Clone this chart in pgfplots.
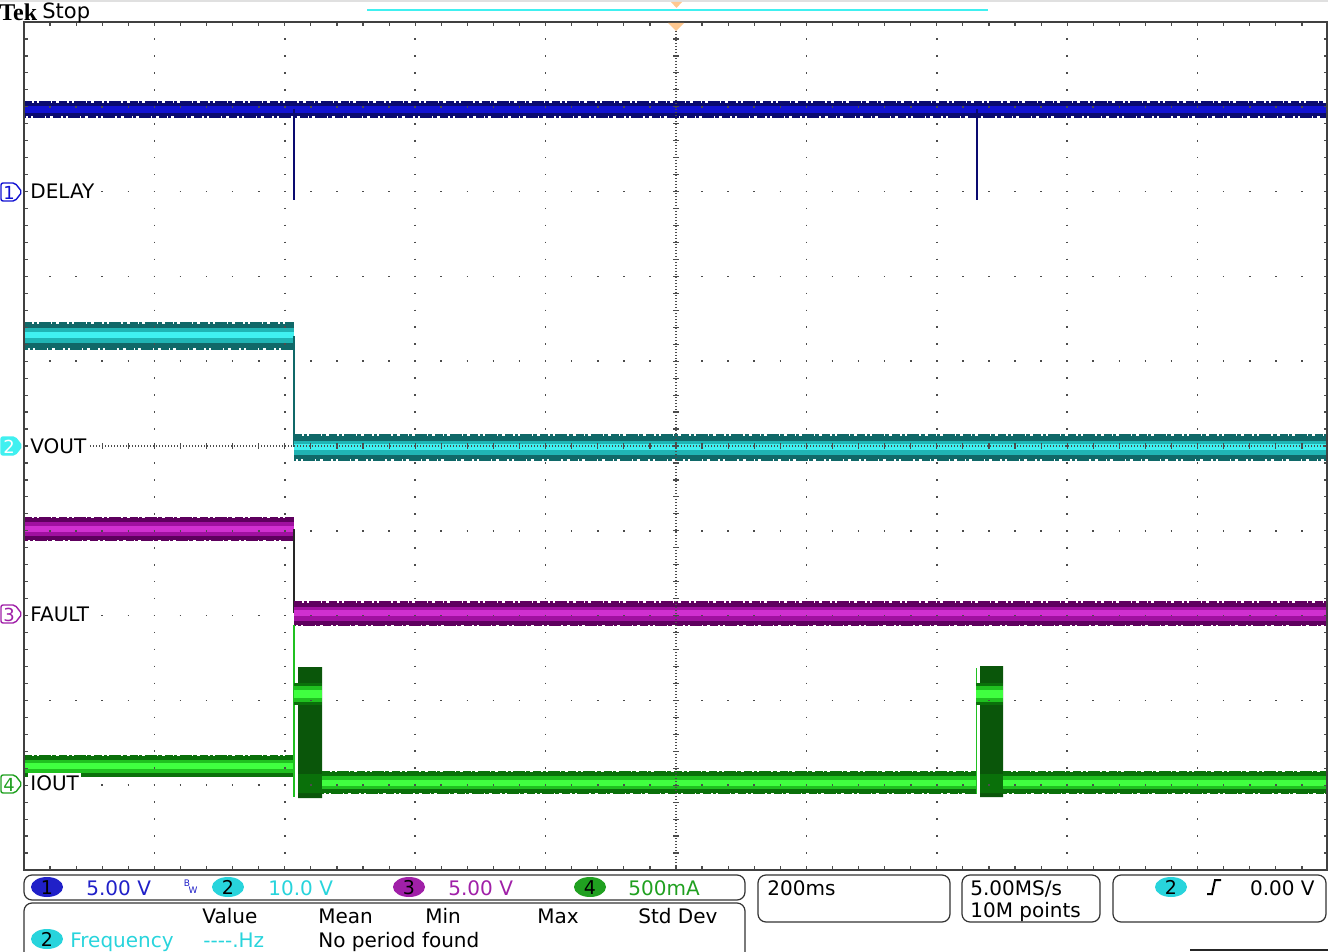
\documentclass[border=0pt]{standalone}
\usepackage{pgfplots}
\pgfplotsset{compat=1.18}
\usepackage{fontspec}
\setmainfont{DejaVu Sans}
\newfontfamily\tekserif{Liberation Serif}

% scope trace colours
\definecolor{c1}{HTML}{1212D2}
\definecolor{c1d}{HTML}{0A0A70}
\definecolor{c2}{HTML}{40F0F0}
\definecolor{c2m}{HTML}{20B4B4}
\definecolor{c2d}{HTML}{106868}
\definecolor{c3}{HTML}{D030D0}
\definecolor{c3m}{HTML}{A010A0}
\definecolor{c3d}{HTML}{5E005E}
\definecolor{c4}{HTML}{40FF40}
\definecolor{c4m}{HTML}{20C020}
\definecolor{c4d}{HTML}{0A700A}
\definecolor{c4x}{HTML}{0A560A}
\definecolor{t1}{HTML}{2020C8}
\definecolor{t2}{HTML}{28D4DC}
\definecolor{t3}{HTML}{A020A8}
\definecolor{t4}{HTML}{20A020}
\definecolor{trig}{HTML}{FFC890}

\tikzset{
  fringe/.style={line width=1.1pt, dash pattern=on 4pt off 0.8pt on 1.5pt off 1.2pt on 6pt off 0.6pt on 2pt off 1.5pt},
  gridv/.style={black!70, line width=0.8pt, dash pattern=on 0.8pt off 7.68pt, dash phase=0.4pt},
  gridh/.style={black!70, line width=0.8pt, dash pattern=on 0.8pt off 12.24pt, dash phase=0.4pt},
  gridc/.style={black!70, line width=0.6pt},
  box/.style={black!80, line width=0.6pt, rounded corners=4pt},
  txt/.style={font=\fontsize{10}{12}\selectfont, inner sep=0pt, anchor=base west},
}

\begin{document}
\begin{tikzpicture}
\begin{axis}[
  scale only axis, width=652pt, height=424pt,
  xmin=24, xmax=1328, ymin=22, ymax=870, y dir=reverse,
  hide axis, clip=false,
]
% ---- channel 1: DELAY
\addplot[c1d, line width=6.5pt] coordinates {(24,109.5) (1328,109.5)};
\addplot[c1, line width=3.5pt] coordinates {(24,109.5) (1328,109.5)};
\addplot[c1d, fringe] coordinates {(24,102.5) (1328,102.5)};
\addplot[c1d, fringe, dash phase=3pt] coordinates {(24,116.5) (1328,116.5)};
\addplot[c1d, line width=0.7pt] coordinates {(294,109) (294,200)};
\addplot[c1d, line width=0.7pt] coordinates {(977,109) (977,200)};

% ---- channel 2: VOUT
\addplot[c2d, line width=12pt] coordinates {(24,336) (294,336)};
\addplot[c2m, line width=7.5pt] coordinates {(24,336) (294,336)};
\addplot[c2, line width=3pt] coordinates {(24,335) (294,335)};
\addplot[c2d, fringe] coordinates {(24,323) (294,323)};
\addplot[c2d, fringe, dash phase=2pt] coordinates {(24,349) (294,349)};
\addplot[c2d, line width=0.8pt] coordinates {(294,336) (294,447)};
\addplot[c2d, line width=11.5pt] coordinates {(294,447.5) (1328,447.5)};
\addplot[c2m, line width=7pt] coordinates {(294,447.5) (1328,447.5)};
\addplot[c2, line width=3pt] coordinates {(294,446.5) (1328,446.5)};
\addplot[c2d, fringe] coordinates {(294,435) (1328,435)};
\addplot[c2d, fringe, dash phase=3pt] coordinates {(294,460) (1328,460)};

% ---- channel 3: FAULT
\addplot[c3d, line width=11pt] coordinates {(24,529) (294,529)};
\addplot[c3m, line width=7pt] coordinates {(24,529) (294,529)};
\addplot[c3, line width=3pt] coordinates {(24,528.5) (294,528.5)};
\addplot[c3d, fringe] coordinates {(24,518) (294,518)};
\addplot[c3d, fringe, dash phase=2pt] coordinates {(24,540) (294,540)};
\addplot[black!85, line width=0.9pt] coordinates {(294,529) (294,613)};
\addplot[c3d, line width=11pt] coordinates {(294,613.5) (1328,613.5)};
\addplot[c3m, line width=7pt] coordinates {(294,613.5) (1328,613.5)};
\addplot[c3, line width=3pt] coordinates {(294,613) (1328,613)};
\addplot[c3d, fringe] coordinates {(294,602.5) (1328,602.5)};
\addplot[c3d, fringe, dash phase=3pt] coordinates {(294,624.5) (1328,624.5)};

% ---- channel 4: IOUT
\addplot[c4d, line width=10.5pt] coordinates {(24,766) (294,766)};
\addplot[c4m, line width=6.5pt] coordinates {(24,766) (294,766)};
\addplot[c4, line width=3pt] coordinates {(24,766) (294,766)};
\addplot[c4d, fringe] coordinates {(24,756) (294,756)};
\addplot[c4d, fringe, dash phase=2pt] coordinates {(24,776) (294,776)};
\addplot[c4m, line width=0.9pt] coordinates {(294,625) (294,797)};
% first pulse
\addplot[fill=c4x, draw=none] coordinates {(298,667) (322,667) (322,798) (298,798) (298,667)};
\addplot[fill=c4d, draw=none] coordinates {(298,774) (322,774) (322,793) (298,793) (298,774)};
\addplot[c4d, line width=11pt] coordinates {(294,694) (322,694)};
\addplot[c4m, line width=8pt] coordinates {(294,694) (322,694)};
\addplot[c4, line width=4pt] coordinates {(294,694) (322,694)};
\addplot[c4d, line width=10.5pt] coordinates {(322,782.5) (976,782.5)};
\addplot[c4m, line width=6.5pt] coordinates {(322,782.5) (976,782.5)};
\addplot[c4, line width=3pt] coordinates {(322,782.5) (976,782.5)};
\addplot[c4d, fringe] coordinates {(322,772.5) (976,772.5)};
\addplot[c4d, fringe, dash phase=3pt] coordinates {(322,792.5) (976,792.5)};
% second pulse
\addplot[c4m, line width=0.9pt] coordinates {(976.5,668) (976.5,794)};
\addplot[fill=c4x, draw=none] coordinates {(980,666) (1003,666) (1003,797) (980,797) (980,666)};
\addplot[fill=c4d, draw=none] coordinates {(980,774) (1003,774) (1003,793) (980,793) (980,774)};
\addplot[c4d, line width=11pt] coordinates {(976,694) (1003,694)};
\addplot[c4m, line width=8pt] coordinates {(976,694) (1003,694)};
\addplot[c4, line width=4pt] coordinates {(976,694) (1003,694)};
\addplot[c4d, line width=10.5pt] coordinates {(1003,782.5) (1328,782.5)};
\addplot[c4m, line width=6.5pt] coordinates {(1003,782.5) (1328,782.5)};
\addplot[c4, line width=3pt] coordinates {(1003,782.5) (1328,782.5)};
\addplot[c4d, fringe] coordinates {(1003,772.5) (1328,772.5)};
\addplot[c4d, fringe, dash phase=2pt] coordinates {(1003,792.5) (1328,792.5)};

% ---- graticule
\pgfplotsinvokeforeach{1,2,3,4,6,7,8,9}{
  \draw[gridv] (axis cs:{24+130.4*#1},22) -- (axis cs:{24+130.4*#1},870);
  \draw[gridh] (axis cs:24,{22+84.8*#1}) -- (axis cs:1328,{22+84.8*#1});
}
\draw[gridc, dash pattern=on 0.5pt off 1pt] (axis cs:676,22) -- (axis cs:676,870);
\draw[gridc, dash pattern=on 0.5pt off 1pt] (axis cs:24,446) -- (axis cs:1328,446);
\pgfplotsinvokeforeach{0,...,50}{
  \draw[gridc] (axis cs:{24+26.08*#1},443) -- (axis cs:{24+26.08*#1},449);
  \draw[gridc] (axis cs:673,{22+16.96*#1}) -- (axis cs:679,{22+16.96*#1});
  \draw[gridc] (axis cs:{24+26.08*#1},22) -- (axis cs:{24+26.08*#1},26);
  \draw[gridc] (axis cs:{24+26.08*#1},866) -- (axis cs:{24+26.08*#1},870);
  \draw[gridc] (axis cs:24,{22+16.96*#1}) -- (axis cs:28,{22+16.96*#1});
  \draw[gridc] (axis cs:1324,{22+16.96*#1}) -- (axis cs:1328,{22+16.96*#1});
}
\draw[black!75, line width=0.9pt] (axis cs:24,22) rectangle (axis cs:1327,870);

% ---- header
\draw[black!12, line width=1pt] (axis cs:0,1) -- (axis cs:1328,1);
\draw[c2, line width=1pt] (axis cs:367,10) -- (axis cs:988,10);
\fill[trig] (axis cs:671,2) -- (axis cs:682,2) -- (axis cs:676.5,8) -- cycle;
\fill[trig] (axis cs:668,23) -- (axis cs:684,23) -- (axis cs:676,31) -- cycle;
\node[inner sep=0pt, anchor=base west, font=\tekserif\bfseries\fontsize{12}{14}\selectfont] at (axis cs:-1,21) {Tek};
\node[inner sep=0pt, anchor=base west, font=\fontsize{10.5}{12}\selectfont] at (axis cs:42,19) {Stop};

% ---- channel markers and labels
\draw[c1, fill=white, line width=0.7pt, rounded corners=1pt] (axis cs:1,183) -- (axis cs:15,183) -- (axis cs:22,192) -- (axis cs:15,201) -- (axis cs:1,201) -- cycle;
\node[c1, font=\fontsize{9}{10}\selectfont] at (axis cs:9,192.5) {1};
\draw[c2, fill=c2, line width=0.7pt, rounded corners=1pt] (axis cs:1,437) -- (axis cs:15,437) -- (axis cs:22,446) -- (axis cs:15,455) -- (axis cs:1,455) -- cycle;
\node[white, font=\fontsize{9}{10}\selectfont] at (axis cs:9,446.5) {2};
\draw[t3, fill=white, line width=0.7pt, rounded corners=1pt] (axis cs:1,605) -- (axis cs:15,605) -- (axis cs:22,614) -- (axis cs:15,623) -- (axis cs:1,623) -- cycle;
\node[t3, font=\fontsize{9}{10}\selectfont] at (axis cs:9,614.5) {3};
\draw[t4, fill=white, line width=0.7pt, rounded corners=1pt] (axis cs:1,775) -- (axis cs:15,775) -- (axis cs:22,784) -- (axis cs:15,793) -- (axis cs:1,793) -- cycle;
\node[t4, font=\fontsize{9}{10}\selectfont] at (axis cs:9,784.5) {4};
\node[txt, fill=white, inner sep=1pt] at (axis cs:28,199) {DELAY};
\node[txt, fill=white, inner sep=1pt] at (axis cs:28,453) {VOUT};
\node[txt, fill=white, inner sep=1pt] at (axis cs:28,621) {FAULT};
\node[txt, fill=white, inner sep=1pt] at (axis cs:28,790) {IOUT};

% ---- readout boxes
\draw[box] (axis cs:24,875) rectangle (axis cs:745,900);
\draw[box] (axis cs:24,903) rectangle (axis cs:745,975);
\draw[box] (axis cs:758,875) rectangle (axis cs:950,922);
\draw[box] (axis cs:962,875) rectangle (axis cs:1100,922);
\draw[box] (axis cs:1113,875) rectangle (axis cs:1326,922);
\draw[black!85, line width=0.7pt] (axis cs:1190,950) -- (axis cs:1328,950);

\fill[t1] (axis cs:47,887) ellipse [x radius=8pt, y radius=5pt];
\node[font=\fontsize{9.5}{10}\selectfont] at (axis cs:47,887.5) {1};
\node[txt, t1] at (axis cs:86,895) {5.00 V};
\node[inner sep=0pt, t1, font=\fontsize{4.5}{5}\selectfont] at (axis cs:187,883) {B};
\node[inner sep=0pt, t1, font=\fontsize{4.5}{5}\selectfont] at (axis cs:193,890) {W};
\fill[t2] (axis cs:228,887) ellipse [x radius=8pt, y radius=5pt];
\node[font=\fontsize{9.5}{10}\selectfont] at (axis cs:228,887.5) {2};
\node[txt, t2] at (axis cs:268,895) {10.0 V};
\fill[t3] (axis cs:409,887) ellipse [x radius=8pt, y radius=5pt];
\node[font=\fontsize{9.5}{10}\selectfont] at (axis cs:409,887.5) {3};
\node[txt, t3] at (axis cs:448,895) {5.00 V};
\fill[t4] (axis cs:590,887) ellipse [x radius=8pt, y radius=5pt];
\node[font=\fontsize{9.5}{10}\selectfont] at (axis cs:590,887.5) {4};
\node[txt, t4] at (axis cs:628,895) {500mA};

\node[txt] at (axis cs:202,923) {Value};
\node[txt] at (axis cs:318,923) {Mean};
\node[txt] at (axis cs:425,923) {Min};
\node[txt] at (axis cs:537,923) {Max};
\node[txt] at (axis cs:638,923) {Std Dev};
\fill[t2] (axis cs:47,939) ellipse [x radius=8pt, y radius=5pt];
\node[font=\fontsize{9.5}{10}\selectfont] at (axis cs:47,939.5) {2};
\node[txt, t2] at (axis cs:70,947) {Frequency};
\node[txt, t2] at (axis cs:203,947) {-{}-{}-{}-.Hz};
\node[txt] at (axis cs:318,947) {No period found};

\node[txt] at (axis cs:767,895) {200ms};
\node[txt] at (axis cs:970,895) {5.00MS/s};
\node[txt] at (axis cs:970,917) {10M points};
\fill[t2] (axis cs:1171,887) ellipse [x radius=8pt, y radius=5pt];
\node[font=\fontsize{9.5}{10}\selectfont] at (axis cs:1171,887.5) {2};
\draw[black, line width=1pt] (axis cs:1207,894) -- (axis cs:1212,894) -- (axis cs:1215,880) -- (axis cs:1221,880);
\node[txt, anchor=base east] at (axis cs:1315,895) {0.00 V};

\coordinate (bbtl) at (axis cs:0,0);
\coordinate (bbbr) at (axis cs:1328,952);
\end{axis}
\pgfresetboundingbox
\useasboundingbox (bbtl) rectangle (bbbr);
\end{tikzpicture}
\end{document}
